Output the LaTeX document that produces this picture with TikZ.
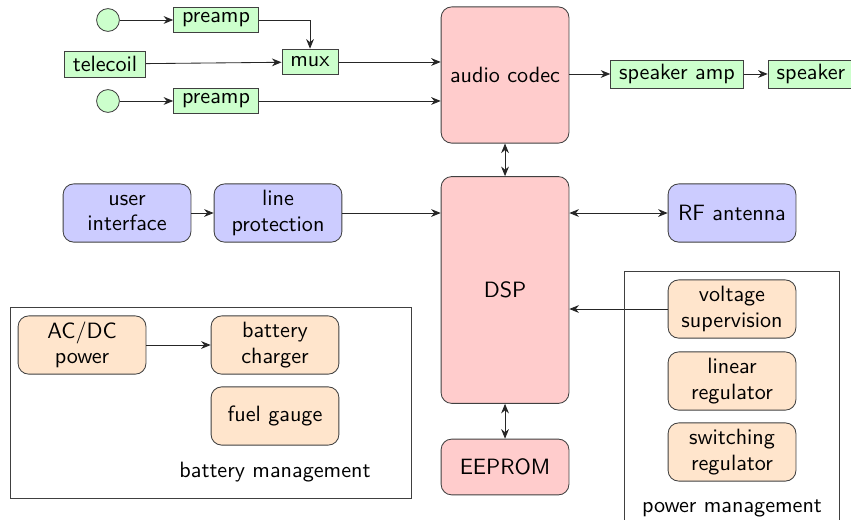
\documentclass[tikz,border=0pt]{standalone}
\usepackage{tikz}
\usetikzlibrary{positioning, arrows.meta}
\renewcommand{\familydefault}{\sfdefault}

\begin{document}
\begin{tikzpicture}[
  font=\fontsize{10.5pt}{12pt}\selectfont\sffamily,
  blk/.style={draw=black!75, rounded corners=5pt, minimum width=2.13cm, minimum height=0.97cm, align=center, inner sep=1pt},
  codecbox/.style={blk, fill=red!20},
  ifbox/.style={blk, fill=blue!20},
  pwrbox/.style={blk, fill=orange!20},
  sigbox/.style={draw=black!75, fill=green!20, minimum height=0.43cm, inner xsep=4pt, inner ysep=2pt},
  mic/.style={circle, draw=black!75, fill=green!20, minimum size=0.38cm, inner sep=0pt},
  grp/.style={draw=black!75},
  arr/.style={-{Stealth[length=1.6mm, width=1.3mm]}, black!85},
  darr/.style={{Stealth[length=1.6mm, width=1.3mm]}-{Stealth[length=1.6mm, width=1.3mm]}, black!85},
]
\useasboundingbox (0,0) rectangle (14.183,-8.65);

% === Audio front end ===
\node[mic] (mic1) at (1.80,-0.333) {};
\node[sigbox] (pre1) at (3.60,-0.333) {preamp};
\node[sigbox] (tele) at (1.75,-1.067) {telecoil};
\node[sigbox] (mux) at (5.167,-1.033) {mux};
\node[mic] (mic2) at (1.80,-1.683) {};
\node[sigbox] (pre2) at (3.60,-1.683) {preamp};

% Codec and output stage
\node[codecbox, minimum height=2.27cm] (codec) at (8.417,-1.25) {audio codec};
\node[sigbox] (spkamp) at (11.283,-1.233) {speaker amp};
\node[sigbox, right=0.4cm of spkamp] (spk) {speaker};

\draw[arr] (mic1) -- (pre1);
\draw[arr] (mic2) -- (pre2);
\draw[arr] (pre1.east) -| (mux.north);
\draw[arr] (tele) -- (mux);
\draw[arr] (mux.east) -- (mux.east -| codec.west);
\draw[arr] (pre2.east) -- (pre2.east -| codec.west);
\draw[arr] (codec.east |- spkamp) -- (spkamp);
\draw[arr] (spkamp) -- (spk);

% === Processing core ===
\node[codecbox, minimum height=3.78cm] (dsp) at (8.417,-4.833) {DSP};
\node[codecbox, minimum height=0.93cm] (eeprom) at (8.417,-7.783) {EEPROM};
\draw[darr] (codec) -- (dsp);
\draw[darr] (dsp) -- (eeprom);

% === Interfaces ===
\node[ifbox] (ui) at (2.117,-3.55) {user\\interface};
\node[ifbox] (lprot) at (4.633,-3.55) {line\\protection};
\node[ifbox] (rf) at (12.2,-3.55) {RF antenna};
\draw[arr] (ui) -- (lprot);
\draw[arr] (lprot.east) -- (lprot.east -| dsp.west);
\draw[darr] (rf.west -| dsp.east) -- (rf.west);

% === Battery management ===
\node[pwrbox] (acdc) at (1.367,-5.75) {AC/DC\\power};
\node[pwrbox] (charger) at (4.583,-5.75) {battery\\charger};
\node[pwrbox] (fuel) at (4.583,-6.933) {fuel gauge};
\node (battlbl) at (4.583,-7.867) {battery management};
\draw[arr] (acdc) -- (charger);
\draw[grp] (0.167,-5.117) rectangle (6.85,-8.30);

% === Power management ===
\node[pwrbox] (vsup) at (12.2,-5.15) {voltage\\supervision};
\node[pwrbox] (linreg) at (12.2,-6.35) {linear\\regulator};
\node[pwrbox] (swreg) at (12.2,-7.533) {switching\\regulator};
\node (pwrlbl) at (12.2,-8.467) {power management};
\draw[arr] (vsup.west) -- (vsup.west -| dsp.east);
\draw[grp] (10.4,-4.517) rectangle (13.983,-9.0);

\end{tikzpicture}
\end{document}
